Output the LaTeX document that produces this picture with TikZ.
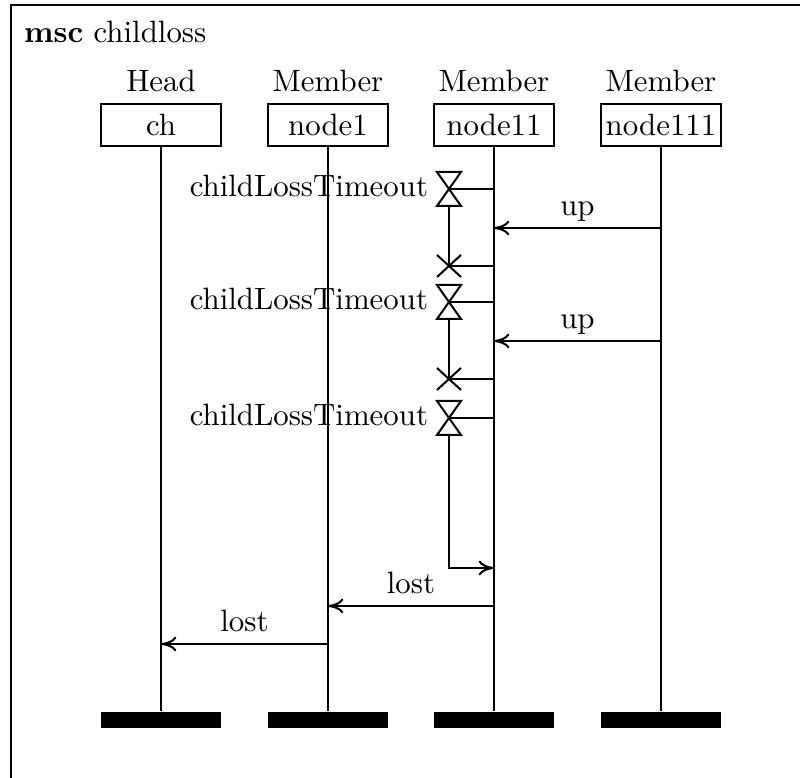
\documentclass[tikz,border=0pt]{standalone}
\usetikzlibrary{arrows.meta}
\begin{document}
\begin{tikzpicture}[x=0.324pt,y=-0.324pt,line width=0.65pt,
  inst/.style={draw,inner sep=0pt,minimum width=38.9pt,minimum height=13.6pt},
  endbar/.style={fill=black,draw=none,inner sep=0pt,minimum width=38.9pt,minimum height=5.2pt},
  kind/.style={anchor=base,inner sep=0pt},
  msg/.style={-{To[length=5pt,width=4.8pt]}},
  lbl/.style={midway,anchor=base,inner sep=0pt,yshift=4pt},
  tlabel/.style={anchor=base east,inner sep=0pt},
  hourglass/.pic={\draw (-12,-17) -- (12,-17) -- (-12,17) -- (12,17) -- cycle;},
  stopx/.pic={\draw (-12,-11) -- (12,11) (-12,11) -- (12,-11);}]
\useasboundingbox (0,0) rectangle (800,778);

% frame and title
\draw[line width=0.7pt] (11,5) rectangle (806,786);
\node[anchor=base west,inner sep=0pt] (title) at (23,43) {\textbf{msc} childloss};

% instances
\foreach \n/\k/\t/\x in {ch/Head/ch/161, node1/Member/node1/328, node11/Member/node11/494, node111/Member/node111/661}{
  \node[kind] (k\n) at (\x,92) {\k};
  \node[inst] (\n) at (\x,125) {\t};
  \node[endbar] (\n end) at (\x,720) {};
  \draw (\n.south) -- (\n end.north);
}

% event points on node11
\foreach \nm/\y in {t1/189, x1/266, t2/302, x2/379, t3/418}{
  \coordinate (\nm) at (449,\y);
  \coordinate (\nm on) at (494,\y);
}
\coordinate (t1b) at (449,206);
\coordinate (t2b) at (449,319);
\coordinate (t3b) at (449,435);
\coordinate (tocorner) at (449,568);
\coordinate (toend) at (494,568);

% timers
\foreach \nm in {t1,t2,t3}{
  \pic at (\nm) {hourglass};
  \draw (\nm) -- (\nm on);
}
\node[tlabel] (lt1) at (429,197) {childLossTimeout};
\node[tlabel] (lt2) at (429,310) {childLossTimeout};
\node[tlabel] (lt3) at (429,426) {childLossTimeout};

% timer resets
\foreach \nm in {x1,x2}{
  \pic at (\nm) {stopx};
  \draw (\nm) -- (\nm on);
}
\draw (t1b) -- (x1);
\draw (t2b) -- (x2);

% timeout
\draw[msg] (t3b) -- (tocorner) -- (toend);

% messages
\coordinate (u1s) at (661,228); \coordinate (u1e) at (494,228);
\coordinate (u2s) at (661,341); \coordinate (u2e) at (494,341);
\coordinate (l1s) at (494,606); \coordinate (l1e) at (328,606);
\coordinate (l2s) at (328,644); \coordinate (l2e) at (161,644);
\draw[msg] (u1s) -- node[lbl] (up1) {up} (u1e);
\draw[msg] (u2s) -- node[lbl] (up2) {up} (u2e);
\draw[msg] (l1s) -- node[lbl] (lost1) {lost} (l1e);
\draw[msg] (l2s) -- node[lbl] (lost2) {lost} (l2e);
\end{tikzpicture}
\end{document}
